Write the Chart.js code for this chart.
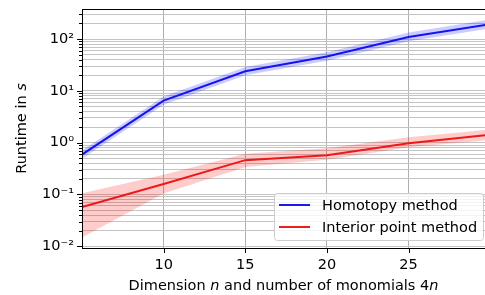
<!DOCTYPE html>
<html>
<head>
<meta charset="utf-8">
<script src="https://cdn.jsdelivr.net/npm/chart.js@4.4.0/dist/chart.umd.min.js"></script>
<style>
  html, body { margin: 0; padding: 0; background: #fff; }
</style>
</head>
<body>
<canvas id="myChart" width="485" height="295"></canvas>
<script>
// valores
const dims = [5, 10, 15, 20, 25, 30];
const homotopy = [0.59, 6.5, 24, 46, 110, 195];
const homotopyLow = [0.49, 5.4, 20, 38, 91, 160];
const homotopyHigh = [0.71, 7.8, 29, 56, 134, 240];
const interior = [0.057, 0.16, 0.46, 0.575, 0.98, 1.42];
const interiorLow = [0.0148, 0.105, 0.34, 0.47, 0.82, 1.12];
const interiorHigh = [0.106, 0.24, 0.61, 0.78, 1.28, 1.8];
const xTicks = [10, 15, 20, 25];
const yMajor = [0.01, 0.1, 1, 10, 100];
const yLabels = ['10\u207B\u00B2', '10\u207B\u00B9', '10\u2070', '10\u00B9', '10\u00B2'];

const FONT = "'DejaVu Sans', sans-serif";
const FS = 14.5;
const yMin = 0.00927, yMax = 381;

// minor ticks 2..9 per decade
const yTicks = [];
for (let e = -3; e <= 2; e++) {
  for (let m = 1; m <= 9; m++) {
    const v = m * Math.pow(10, e);
    if (v >= yMin && v <= yMax) yTicks.push(v);
  }
}

const pts = (ys) => ys.map((y, i) => ({x: dims[i], y: y}));

const band = {borderWidth: 0, pointRadius: 0, tension: 0};

const datasets = [
  {label: '_hl', data: pts(homotopyLow), ...band, fill: false},
  {label: '_hh', data: pts(homotopyHigh), ...band, fill: '-1', backgroundColor: 'rgba(0,0,255,0.2)'},
  {label: '_il', data: pts(interiorLow), ...band, fill: false},
  {label: '_ih', data: pts(interiorHigh), ...band, fill: '-1', backgroundColor: 'rgba(255,0,0,0.2)'},
  {label: 'Homotopy method', data: pts(homotopy), borderColor: 'rgb(25,25,235)', borderWidth: 2, pointRadius: 0, fill: false},
  {label: 'Interior point method', data: pts(interior), borderColor: 'rgb(235,30,30)', borderWidth: 2, pointRadius: 0, fill: false}
];

const isMajor = (v) => yMajor.some(m => Math.abs(m - v) / m < 1e-6);

// dibuja texto con partes en cursiva, centrado en x=0
function mixedText(ctx, parts, cx, y) {
  let w = 0;
  parts.forEach(p => { ctx.font = (p[1] ? 'italic ' : '') + FS + 'px ' + FONT; w += ctx.measureText(p[0]).width; });
  let x = cx - w / 2;
  parts.forEach(p => {
    ctx.font = (p[1] ? 'italic ' : '') + FS + 'px ' + FONT;
    ctx.fillText(p[0], x, y);
    x += ctx.measureText(p[0]).width;
  });
}

const framePlugin = {
  id: 'frame',
  afterDatasetsDraw(chart) {
    const {ctx, chartArea: a, scales} = chart;
    ctx.save();
    ctx.strokeStyle = '#000';
    ctx.lineWidth = 1;
    scales.y.ticks.forEach(t => {
      const py = Math.round(scales.y.getPixelForValue(t.value)) + 0.5;
      const len = isMajor(t.value) ? 5 : 3;
      ctx.beginPath();
      ctx.moveTo(a.left, py);
      ctx.lineTo(a.left - len, py);
      ctx.stroke();
    });
    scales.x.ticks.forEach(t => {
      const px = Math.round(scales.x.getPixelForValue(t.value)) + 0.5;
      ctx.beginPath();
      ctx.moveTo(px, a.bottom);
      ctx.lineTo(px, a.bottom + 5);
      ctx.stroke();
    });
    // spines
    ctx.beginPath();
    ctx.moveTo(a.left + 0.5, a.top);
    ctx.lineTo(a.left + 0.5, a.bottom + 0.5);
    ctx.moveTo(a.left, a.bottom + 0.5);
    ctx.lineTo(a.right, a.bottom + 0.5);
    ctx.moveTo(a.left, a.top + 0.5);
    ctx.lineTo(a.right, a.top + 0.5);
    ctx.stroke();
    ctx.restore();
  },
  afterDraw(chart) {
    const {ctx, chartArea: a} = chart;
    ctx.save();
    ctx.fillStyle = '#000';
    ctx.textBaseline = 'alphabetic';
    mixedText(ctx, [['Dimension ', false], ['n', true], [' and number of monomials 4', false], ['n', true]], (a.left + a.right) / 2, 289.5);
    ctx.translate(22, (a.top + a.bottom) / 2);
    ctx.rotate(-Math.PI / 2);
    ctx.textBaseline = 'middle';
    mixedText(ctx, [['Runtime in ', false], ['s', true]], 0, 0);
    ctx.restore();

    // leyenda
    ctx.save();
    const bx = 274.5, by = 193.5, bw = 209, bh = 47, r = 3;
    ctx.beginPath();
    ctx.moveTo(bx + r, by);
    ctx.arcTo(bx + bw, by, bx + bw, by + bh, r);
    ctx.arcTo(bx + bw, by + bh, bx, by + bh, r);
    ctx.arcTo(bx, by + bh, bx, by, r);
    ctx.arcTo(bx, by, bx + bw, by, r);
    ctx.closePath();
    ctx.fillStyle = 'rgba(255,255,255,0.8)';
    ctx.fill();
    ctx.strokeStyle = '#cccccc';
    ctx.lineWidth = 1;
    ctx.stroke();
    const items = chart.data.datasets.filter(d => !d.label.startsWith('_'));
    ctx.font = FS + 'px ' + FONT;
    ctx.textBaseline = 'middle';
    items.forEach((d, i) => {
      const ly = 205 + i * 22;
      ctx.strokeStyle = d.borderColor;
      ctx.lineWidth = 2;
      ctx.beginPath();
      ctx.moveTo(279, ly);
      ctx.lineTo(310, ly);
      ctx.stroke();
      ctx.fillStyle = '#000';
      ctx.fillText(d.label, 322, ly + 1);
    });
    ctx.restore();
  }
};

const ctx = document.getElementById('myChart');

new Chart(ctx, {
  type: 'line',
  data: {datasets: datasets},
  options: {
    responsive: false,
    animation: false,
    devicePixelRatio: 1,
    layout: {padding: {top: 9, right: 0, left: 0, bottom: 0}},
    plugins: {legend: {display: false}, tooltip: {enabled: false}},
    scales: {
      x: {
        type: 'linear',
        min: 5,
        max: 29.68,
        afterBuildTicks: (s) => { s.ticks = xTicks.map(v => ({value: v})); },
        afterFit: (s) => { s.height = 47; s.paddingLeft = 0; s.paddingRight = 0; },
        grid: {color: '#b0b0b0', lineWidth: 1, drawTicks: false},
        border: {display: false},
        ticks: {font: {family: FONT, size: FS}, color: '#000', padding: 9, maxRotation: 0}
      },
      y: {
        type: 'logarithmic',
        min: yMin,
        max: yMax,
        afterBuildTicks: (s) => { s.ticks = yTicks.map(v => ({value: v})); },
        afterFit: (s) => { s.width = 82; s.paddingTop = 0; s.paddingBottom = 0; },
        grid: {color: '#c4c4c4', lineWidth: 1, drawTicks: false},
        border: {display: false},
        ticks: {
          font: {family: FONT, size: FS}, color: '#000', padding: 8, autoSkip: false,
          callback: (v) => {
            const i = yMajor.findIndex(m => Math.abs(m - v) / m < 1e-6);
            return i >= 0 ? yLabels[i] : '';
          }
        }
      }
    }
  },
  plugins: [framePlugin]
});
</script>
</body>
</html>
